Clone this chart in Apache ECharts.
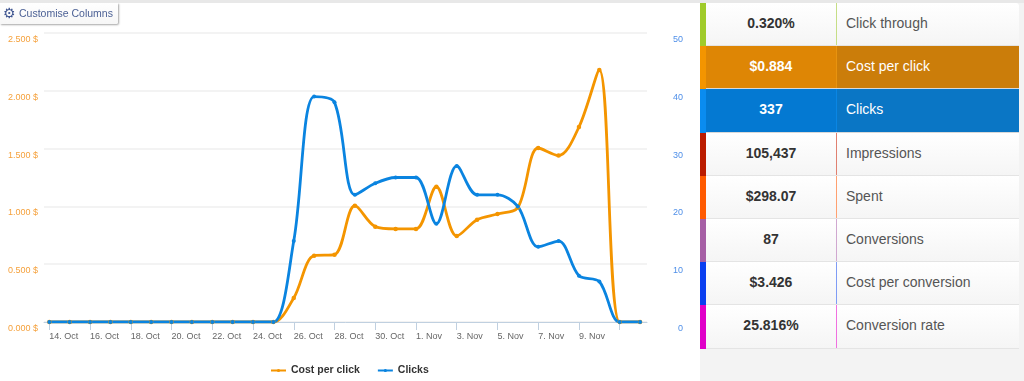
<!DOCTYPE html>
<html>
<head>
<meta charset="utf-8">
<title>Campaign stats</title>
<script src="https://cdn.jsdelivr.net/npm/echarts@6/dist/echarts.min.js"></script>
<style>
  html, body { margin: 0; padding: 0; background: #fff; overflow: hidden; }
  body { width: 1024px; height: 381px; position: relative; font-family: "Liberation Sans", Arial, sans-serif; }
  #top_strip { position: absolute; left: 0; top: 0; width: 1024px; height: 3px; background: #e8e8e8; z-index: 3; }
  #chart { position: absolute; left: 0; top: 0; width: 700px; height: 381px; }
  #side { position: absolute; left: 700px; top: 3px; width: 324px; height: 378px; background: #f3f3f3; }
  #table { position: absolute; left: 0; top: 0; width: 319px; background: #fff; border-top-right-radius: 4px; overflow: hidden; }
  .row { position: relative; height: 42.2px; border-bottom: 1px solid #e4e4e4; background: linear-gradient(#fff, #f5f5f5); color: #333; font-size: 14px; line-height: 40px; }
  .strip { position: absolute; left: 0; top: 0; bottom: -1px; width: 6px; }
  .value { position: absolute; left: 6px; width: 130px; top: 0; text-align: center; font-weight: bold; height: 100%; }
  .sep { position: absolute; left: 136px; top: 0; bottom: 0; width: 1px; }
  .name { position: absolute; left: 146px; top: 0; color: #555; }
  .row.active { color: #fff; border-bottom-color: #d8d8d8; }
  .row.active .name { color: #fff; }
  #customise { position: absolute; left: 0; top: 3px; width: 118px; height: 21px; background: linear-gradient(#fff, #f6f6f6); border-radius: 0 0 2px 0; box-shadow: 1px 1px 2px rgba(0,0,0,.35); color: #4a5f94; font-size: 10.5px; line-height: 20px; z-index: 2; white-space: nowrap; }
  #customise .gear { position: absolute; left: 3px; top: 0; font-family: "DejaVu Sans"; font-size: 14px; color: #3f5590; }
  #customise .txt { position: absolute; left: 19px; top: 0; }
</style>
</head>
<body>
<div id="top_strip"></div>
<div id="chart"></div>
<div id="customise"><span class="gear">&#9881;</span><span class="txt">Customise Columns</span></div>
<div id="side"><div id="table"></div></div>
<script>
// 14 Oct .. 12 Nov, one point per day
const dayIndex = [0,1,2,3,4,5,6,7,8,9,10,11,12,13,14,15,16,17,18,19,20,21,22,23,24,25,26,27,28,29]
const costPerClick = [0,0,0,0,0,0,0,0,0,0,0,0,0.208,0.574,0.582,1.006,0.825,0.805,0.805,1.17,0.744,0.885,0.934,0.99,1.505,1.44,1.687,2.18,0,0]
const clicks = [0,0,0,0,0,0,0,0,0,0,0,0,14,39,38,22,24,25,25,17,27,22,22,20,13,14,8,7,0,0]

const tickDays = [0,2,4,6,8,10,12,14,16,18,20,22,24,26,28]
const tickLabels = ['14. Oct','16. Oct','18. Oct','20. Oct','22. Oct','24. Oct','26. Oct','28. Oct','30. Oct','1. Nov','3. Nov','5. Nov','7. Nov','9. Nov','']

const statValues = ['0.320%','$0.884','337','105,437','$298.07','87','$3.426','25.816%']
const statNames = ['Click through','Cost per click','Clicks','Impressions','Spent','Conversions','Cost per conversion','Conversion rate']
const stripColors = ['#a0cb2a','#f49500','#0a8cf0','#bb1c00','#ff5a00','#a65fa5','#0a3ff0','#e000c8']
const sepColors = ['#c6de86','#e8930f','#0a86e4','#e08070','#ffa070','#d0a8d0','#7f9cf5','#f070e0']
const activeValueBg = { 1: '#de8605', 2: '#0479d2' }
const activeNameBg = { 1: '#cb7d0a', 2: '#0a76c5' }

const orange = '#f49500'
const blue = '#0a84e0'

// 右侧表格
const table = document.getElementById('table')
statValues.forEach((v, i) => {
  const row = document.createElement('div')
  row.className = 'row' + (activeValueBg[i] ? ' active' : '')
  if (activeValueBg[i]) {
    row.style.background = 'linear-gradient(90deg,' + activeValueBg[i] + ' 136px,' + activeNameBg[i] + ' 136px)'
  }
  row.innerHTML = '<div class="strip" style="background:' + stripColors[i] + '"></div>' +
    '<div class="value">' + v + '</div>' +
    '<div class="sep" style="background:' + sepColors[i] + '"></div>' +
    '<div class="name">' + statNames[i] + '</div>'
  table.appendChild(row)
})

const chart = echarts.init(document.getElementById('chart'), null, { renderer: 'canvas' })
const option = {
  animation: false,
  textStyle: { fontFamily: '"Liberation Sans", Arial, sans-serif' },
  grid: { left: 44, right: 53, top: 33, bottom: 59 },
  legend: {
    left: 265,
    top: 360,
    itemWidth: 15,
    itemHeight: 4,
    itemGap: 17,
    textStyle: { fontSize: 10.5, fontWeight: 'bold', color: '#333' },
    data: ['Cost per click', 'Clicks']
  },
  xAxis: {
    type: 'value',
    min: -0.26,
    max: 29.34,
    splitLine: { show: false },
    axisLine: { lineStyle: { color: '#c0d0e0', width: 1 } },
    axisTick: { customValues: tickDays, length: 8, lineStyle: { color: '#c0d0e0' } },
    axisLabel: {
      customValues: tickDays,
      align: 'left',
      margin: 10,
      fontSize: 9,
      color: '#666',
      formatter: (v) => tickLabels[tickDays.indexOf(v)]
    }
  },
  yAxis: [
    {
      type: 'value',
      min: 0,
      max: 2.5,
      interval: 0.5,
      axisLine: { show: false },
      axisTick: { show: false },
      splitLine: { lineStyle: { color: '#efefef', width: 1.5 } },
      axisLabel: {
        margin: 6,
        fontSize: 9,
        color: '#f5a13c',
        verticalAlign: 'top',
        padding: [2, 0, 0, 0],
        formatter: (v) => v.toFixed(3) + ' $'
      }
    },
    {
      type: 'value',
      min: 0,
      max: 50,
      interval: 10,
      position: 'right',
      axisLine: { show: false },
      axisTick: { show: false },
      splitLine: { show: false },
      axisLabel: {
        margin: 36,
        align: 'right',
        fontSize: 9,
        color: '#4f8fe8',
        verticalAlign: 'top',
        padding: [2, 0, 0, 0]
      }
    }
  ],
  series: [
    {
      name: 'Cost per click',
      type: 'line',
      yAxisIndex: 0,
      smooth: 0.33,
      symbol: 'circle',
      symbolSize: 4.5,
      itemStyle: { color: orange },
      lineStyle: { color: orange, width: 2.8 },
      data: dayIndex.map((d, i) => [d, costPerClick[i]])
    },
    {
      name: 'Clicks',
      type: 'line',
      yAxisIndex: 1,
      smooth: 0.33,
      symbol: 'circle',
      symbolSize: 4,
      itemStyle: { color: blue },
      lineStyle: { color: blue, width: 2.8 },
      data: dayIndex.map((d, i) => [d, clicks[i]])
    }
  ]
}
chart.setOption(option)
</script>
</body>
</html>
